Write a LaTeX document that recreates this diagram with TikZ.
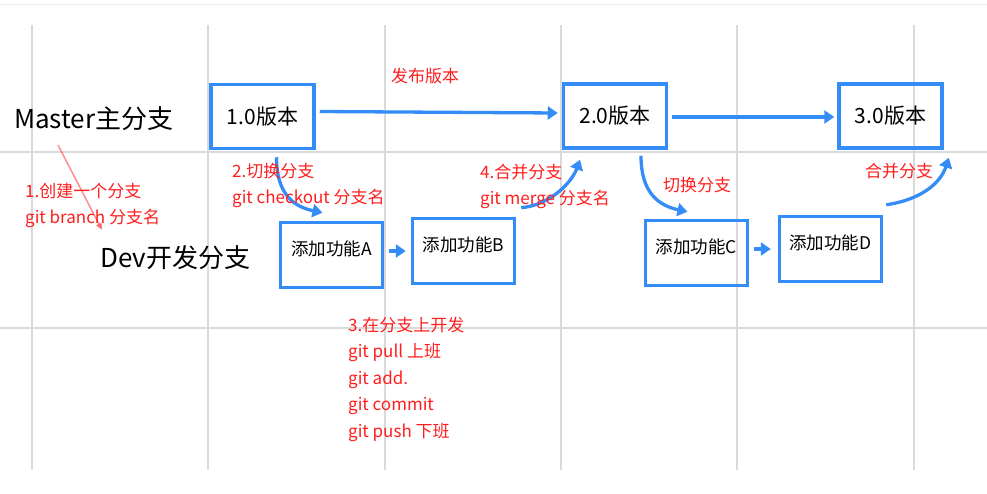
\documentclass[tikz,border=0pt]{standalone}
\usepackage{fontspec}
\setmainfont{Noto Sans CJK SC}
\usepackage{xcolor}
\usepackage{tikz}
\usetikzlibrary{arrows.meta,calc}
\definecolor{gitblue}{RGB}{52,140,246}
\definecolor{gitred}{RGB}{255,30,30}
\definecolor{gridgray}{RGB}{218,218,218}

\begin{document}
\begin{tikzpicture}[x=1pt,y=-1pt]
        \tikzstyle{every node}=[inner sep=0pt]
        \tikzstyle{verbox}=[draw=gitblue,line width=3.5pt,minimum width=103pt,minimum height=64pt,font=\fontsize{21}{25}\selectfont]
        \tikzstyle{featbox}=[draw=gitblue,line width=3.5pt,minimum width=102pt,minimum height=65pt,text height=12pt,text depth=12pt,font=\fontsize{17.5}{21}\selectfont]
        \tikzstyle{lanelabel}=[anchor=west,font=\fontsize{26}{30}\selectfont]
        \tikzstyle{rednote}=[anchor=base west,align=left,text=gitred,font=\fontsize{17}{26.5}\selectfont]
        \tikzstyle{blueflow}=[gitblue,line width=3.3pt,-{Triangle[length=10pt,width=13pt]}]
        \fill[white] (0,0) rectangle (987,493);
        \useasboundingbox (0,0) rectangle (987,493);
        % grid
        \draw[gridgray!60,line width=1pt] (0,4) -- (987,4);
        \foreach \gx in {32,208,385,561,737,914}
            \draw[gridgray,line width=1.3pt] (\gx,25) -- (\gx,470);
        \foreach \gy in {152,328}
            \draw[gridgray,line width=1.3pt] (0,\gy) -- (987,\gy);
        % lanes
        \node[lanelabel] (master) at (14,119) {Master主分支};
        \node[lanelabel] (dev) at (100,258) {Dev开发分支};
        % master branch
        \node[verbox] (v1) at (262.5,116.5) {1.0版本};
        \node[verbox] (v2) at (615,116) {2.0版本};
        \node[verbox] (v3) at (890.5,116) {3.0版本};
        % dev branch
        \node[featbox] (fa) at (331.5,255) {添加功能A};
        \node[featbox] (fb) at (463.5,251) {添加功能B};
        \node[featbox] (fc) at (696.5,253) {添加功能C};
        \node[featbox] (fd) at (830.5,249) {添加功能D};
        % connectors
        \draw[blueflow] ($(v1.east)+(4,-5)$) -- ($(v2.west)+(-4,-3)$);
        \draw[blueflow] ($(v2.east)+(4,1)$) -- ($(v3.west)+(-3,1)$);
        \draw[blueflow] ($(fa.east)+(5,-4)$) -- ($(fb.west)+(-5,0)$);
        \draw[blueflow] ($(fc.east)+(5,-4)$) -- ($(fd.west)+(-7,0)$);
        \draw[blueflow] ($(v1.south)+(14,7)$) .. controls +(0,38) and +(-28,-6) .. ($(fa.north)+(-9,-8)$);
        \draw[blueflow] ($(fb.north east)+(5,-9)$) .. controls +(30,-3) and +(-8,22) .. ($(v2.south)+(-35,10)$);
        \draw[blueflow] ($(v2.south)+(26,6)$) .. controls +(0,38) and +(-28,-6) .. ($(fc.north)+(-9,-7)$);
        \draw[blueflow] ($(fd.north east)+(3,-10)$) .. controls +(35,-5) and +(-8,25) .. ($(v3.south east)+(5,8)$);
        % notes (base = last line)
        \coordinate (bstart) at (58,145);
        \coordinate (bend) at (102,230);
        \node[rednote] (n1) at (25,223.5) {1.创建一个分支\\git branch 分支名};
        \node[rednote] (n2) at (232,203.5) {2.切换分支\\git checkout 分支名};
        \node[rednote] (n3) at (348,437) {3.在分支上开发\\git pull 上班\\git add.\\git commit\\git push 下班};
        \node[rednote] (n4) at (480,204.5) {4.合并分支\\git merge 分支名};
        \node[rednote] (rel) at (391,82) {发布版本};
        \node[rednote] (sw) at (663,191) {切换分支};
        \node[rednote] (mg) at (865,177) {合并分支};
        \draw[gitred,opacity=0.5,line width=1.5pt,-{Triangle[length=7pt,width=6pt]}] (bstart) -- (bend);
    \end{tikzpicture}
\end{document}
